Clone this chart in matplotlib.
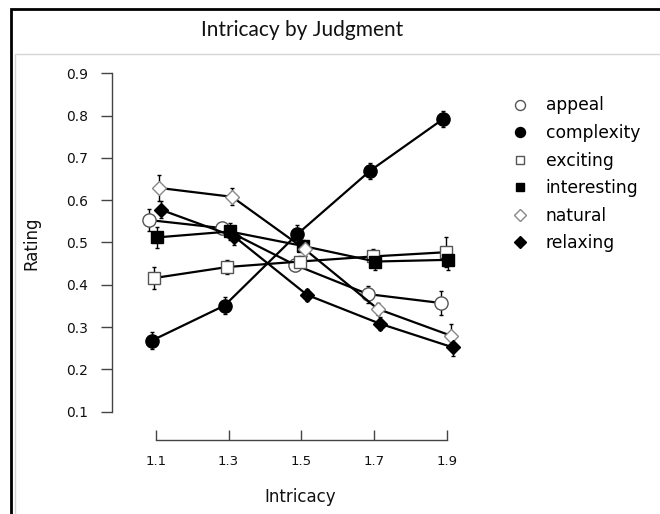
import matplotlib
matplotlib.use("Agg")
import matplotlib.pyplot as plt
from matplotlib.lines import Line2D
from matplotlib.patches import Rectangle
import numpy as np

# Intricacy levels and mean ratings per judgment
intricacy = [1.1, 1.3, 1.5, 1.7, 1.9]
x_tick_labels = ["1.1", "1.3", "1.5", "1.7", "1.9"]
y_ticks = [0.1, 0.2, 0.3, 0.4, 0.5, 0.6, 0.7, 0.8, 0.9]

judgments = ["appeal", "complexity", "exciting", "interesting", "natural", "relaxing"]

appeal = [0.553, 0.534, 0.447, 0.378, 0.357]
complexity = [0.268, 0.351, 0.520, 0.670, 0.792]
exciting = [0.416, 0.442, 0.455, 0.467, 0.477]
interesting = [0.512, 0.526, 0.492, 0.455, 0.459]
natural = [0.629, 0.608, 0.484, 0.343, 0.280]
relaxing = [0.577, 0.514, 0.376, 0.308, 0.252]

appeal_err = [0.025, 0.015, 0.015, 0.020, 0.028]
complexity_err = [0.020, 0.020, 0.022, 0.019, 0.020]
exciting_err = [0.026, 0.017, 0.012, 0.017, 0.035]
interesting_err = [0.024, 0.020, 0.015, 0.019, 0.024]
natural_err = [0.030, 0.020, 0.015, 0.015, 0.028]
relaxing_err = [0.020, 0.020, 0.015, 0.015, 0.020]

means = [appeal, complexity, exciting, interesting, natural, relaxing]
errors = [appeal_err, complexity_err, exciting_err, interesting_err, natural_err, relaxing_err]

# small horizontal dodge so overlapping series stay readable
dodge = [-0.0176, -0.011, -0.004, 0.003, 0.0093, 0.0156]

styles = [
    dict(marker="o", ms=9.5, mfc="white", mec="#555555", mew=1.0),
    dict(marker="o", ms=9.5, mfc="black", mec="black", mew=1.0),
    dict(marker="s", ms=8.0, mfc="white", mec="#555555", mew=1.0),
    dict(marker="s", ms=8.0, mfc="black", mec="black", mew=1.0),
    dict(marker="D", ms=7.5, mfc="white", mec="#888888", mew=1.0),
    dict(marker="D", ms=7.5, mfc="black", mec="black", mew=1.0),
]
legend_sizes = [7.2, 7.2, 5.8, 5.8, 6.2, 6.2]

W, H = 660, 514
fig = plt.figure(figsize=(W / 100, H / 100), dpi=100)
fig.patch.set_facecolor("white")

# outer black frame and inner grey panel
fig.patches.append(Rectangle((11 / W, -0.05), 1.2, 1 - 9 / H + 0.05, transform=fig.transFigure,
                             fill=False, edgecolor="black", linewidth=2.0))
fig.patches.append(Rectangle((15.5 / W, -0.05), 1.2, 1 - 54 / H + 0.05, transform=fig.transFigure,
                             fill=False, edgecolor="#d6d6d6", linewidth=1.0))

fig.text(302 / W, 1 - 30 / H, "Intricacy by Judgment", ha="center", va="center",
         fontsize=15, family="Lato", color="#111111")

left_px, right_px, top_px, bottom_px = 112, 480, 60, 440
ax = fig.add_axes([left_px / W, 1 - bottom_px / H,
                   (right_px - left_px) / W, (bottom_px - top_px) / H])
ax.set_facecolor("none")

x = np.array(intricacy)
for vals, errs, off, st in zip(means, errors, dodge, styles):
    ax.errorbar(x + off, vals, yerr=errs, color="black", lw=1.6, elinewidth=1.0,
                capsize=1.6, capthick=1.0, ecolor="black", clip_on=False, **st)

ax.set_xlim(0.980, 1.99)
ax.set_ylim(0.0331, 0.9314)

for side in ("top", "right"):
    ax.spines[side].set_visible(False)
ax.spines["left"].set_bounds(0.1, 0.9)
ax.spines["bottom"].set_bounds(1.1, 1.9)
for side in ("left", "bottom"):
    ax.spines[side].set_color("#444444")
    ax.spines[side].set_linewidth(1.0)

ax.set_yticks(y_ticks)
ax.set_yticklabels([f"{v:.1f}" for v in y_ticks])
ax.set_xticks(intricacy)
ax.set_xticklabels(x_tick_labels)
ax.tick_params(axis="y", direction="out", length=8, width=1.0, color="#444444",
               pad=9.0, labelsize=10, labelcolor="#111111")
ax.tick_params(axis="x", direction="in", length=7, width=1.0, color="#444444",
               pad=11, labelsize=9.5, labelcolor="#111111")

ax.set_xlabel("Intricacy", fontsize=12, color="#111111")
ax.xaxis.set_label_coords((300 - left_px) / (right_px - left_px), -(488 - bottom_px) / (bottom_px - top_px))
ax.set_ylabel("Rating", fontsize=12, color="#111111")
ax.yaxis.set_label_coords(-(left_px - 40) / (right_px - left_px), (bottom_px - 243) / (bottom_px - top_px))

handles = [Line2D([], [], ls="none", marker=st["marker"], ms=ls_, mfc=st["mfc"],
                  mec=st["mec"], mew=st["mew"])
           for st, ls_ in zip(styles, legend_sizes)]
fig.legend(handles, judgments, loc="upper left",
           bbox_to_anchor=(511.7 / W, 1 - 96.5 / H), frameon=False,
           fontsize=12.3, handlelength=1.0, handletextpad=1.0, borderpad=0,
           borderaxespad=0, labelspacing=0.56)

fig.savefig("out.png", dpi=100)
